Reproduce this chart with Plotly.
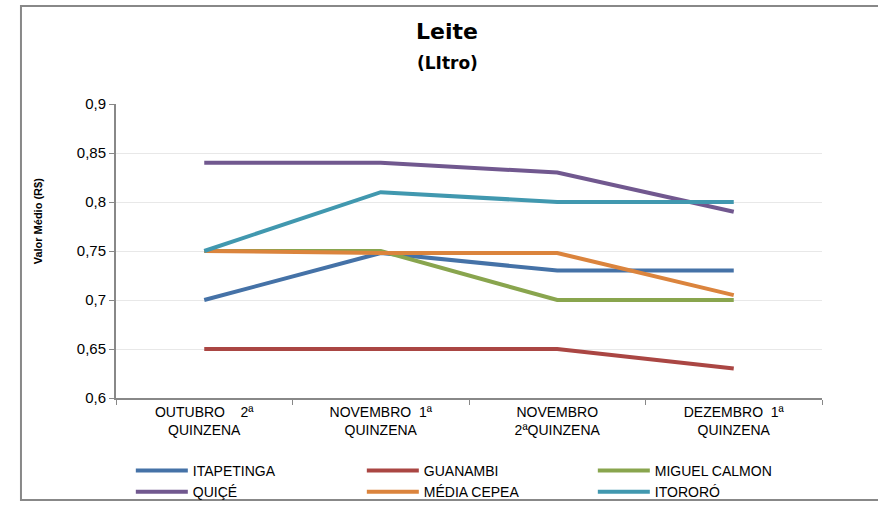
import plotly.graph_objects as go

# periods (x categories)
periodos = ["OUTUBRO    2ª<br>QUINZENA", "NOVEMBRO  1ª<br>QUINZENA",
            "NOVEMBRO<br>2ªQUINZENA", "DEZEMBRO  1ª<br>QUINZENA"]

# average price per litre (R$)
itapetinga = [0.70, 0.748, 0.73, 0.73]
guanambi = [0.65, 0.65, 0.65, 0.63]
miguel_calmon = [0.75, 0.75, 0.70, 0.70]
quice = [0.84, 0.84, 0.83, 0.79]
media_cepea = [0.75, 0.748, 0.748, 0.705]
itororo = [0.75, 0.81, 0.80, 0.80]

series = [
    ("ITAPETINGA", itapetinga, "#4572a7"),
    ("GUANAMBI", guanambi, "#aa4643"),
    ("MIGUEL CALMON", miguel_calmon, "#89a54e"),
    ("QUIÇÉ", quice, "#71588f"),
    ("MÉDIA CEPEA", media_cepea, "#db843d"),
    ("ITORORÓ", itororo, "#4198af"),
]

fig = go.Figure()
for nome, vals, cor in series:
    fig.add_trace(go.Scatter(x=periodos, y=vals, name=nome, mode="lines",
                             line=dict(color=cor, width=4)))

font_fam = "Liberation Sans, Arial, sans-serif"

fig.update_layout(
    width=878, height=505,
    margin=dict(l=116, r=56, t=104, b=107, autoexpand=False),
    paper_bgcolor="white", plot_bgcolor="white",
    separators=",.",
    font=dict(family=font_fam, size=14, color="#000"),
    showlegend=True,
    legend=dict(orientation="h", xref="container", yref="container",
                x=0.149, y=0.099, xanchor="left", yanchor="top",
                entrywidth=164, entrywidthmode="pixels", tracegroupgap=0,
                font=dict(size=14, family=font_fam), itemwidth=52,
                bgcolor="rgba(0,0,0,0)"),
    xaxis=dict(range=[-0.5, 3.5], showline=True, linecolor="#888", linewidth=2,
               ticks="outside", tickson="boundaries", ticklen=5, tickcolor="#888",
               showgrid=False, tickfont=dict(size=14)),
    yaxis=dict(range=[0.6, 0.9], dtick=0.05, showline=True, linecolor="#888",
               linewidth=2, ticks="outside", ticklen=5, tickcolor="#888",
               showgrid=True, gridcolor="#e8e8e8", gridwidth=1,
               tickfont=dict(size=15), zeroline=False),
    annotations=[
        dict(text="<b>Leite</b>", xref="paper", yref="paper", x=0.469, y=1.245,
             xanchor="center", yanchor="middle", showarrow=False,
             font=dict(size=22, family="DejaVu Sans")),
        dict(text="<b>(LItro)</b>", xref="paper", yref="paper", x=0.469, y=1.14,
             xanchor="center", yanchor="middle", showarrow=False,
             font=dict(size=17, family="DejaVu Sans")),
        dict(text="<b>Valor Médio (R$)</b>", xref="paper", yref="paper",
             x=-0.11, y=0.602, xanchor="center", yanchor="middle", textangle=-90,
             showarrow=False,
             font=dict(size=11, family="Liberation Sans Narrow, Liberation Sans, sans-serif")),
    ],
    shapes=[
        dict(type="rect", xref="paper", yref="paper",
             x0=-0.1346, x1=1.2, y0=-0.347, y1=1.333,
             line=dict(color="#888", width=2), fillcolor="rgba(0,0,0,0)"),
    ],
)

# drop the default page margin so the figure sits at the window corner
fig.write_html("out.html", config={"displayModeBar": False},
               post_script="document.body.style.margin='0';")
